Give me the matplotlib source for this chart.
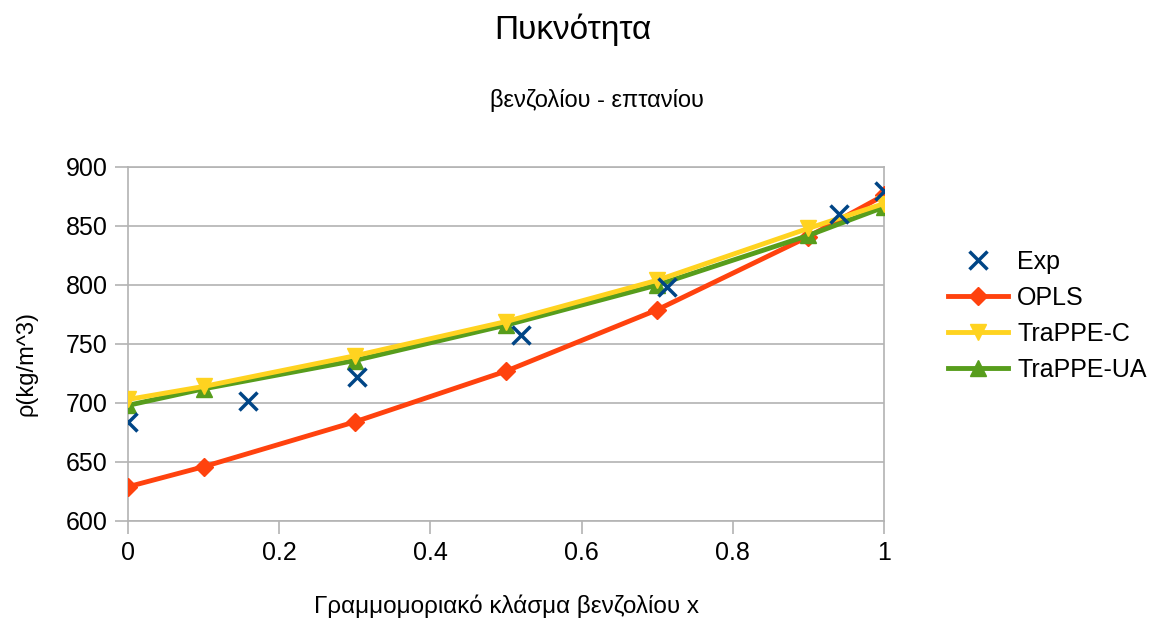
import matplotlib.pyplot as plt
import numpy as np

plt.rcParams['font.family'] = ['Liberation Sans', 'DejaVu Sans']

# experimental data
x_exp = [0.0, 0.159, 0.303, 0.52, 0.713, 0.94, 1.0]
rho_exp = [684, 702, 722, 758, 798, 860, 880]

# simulations
x_sim = [0.0, 0.1, 0.3, 0.5, 0.7, 0.9, 1.0]
rho_opls = [629, 646, 684, 727, 779, 841, 876]
rho_trappe_c = [703, 714, 740, 769, 804, 848, 869]
rho_trappe_ua = [698, 712, 736, 766, 800, 842, 866]

fig = plt.figure(figsize=(11.55, 6.19), dpi=100)
ax = fig.add_axes([128/1155, 1-521/619, (884-128)/1155, (521-167)/619])

ax.plot(x_exp, rho_exp, linestyle='none', marker='x', color='#004586',
        markersize=13, markeredgewidth=2.5, label='Exp', zorder=5)
ax.plot(x_sim, rho_opls, color='#ff420e', linewidth=3.5, marker='D',
        markersize=9, label='OPLS', zorder=3)
ax.plot(x_sim, rho_trappe_c, color='#ffd320', linewidth=3.5, marker='v',
        markersize=11, label='TraPPE-C', zorder=4)
ax.plot(x_sim, rho_trappe_ua, color='#579d1c', linewidth=3.5, marker='^',
        markersize=11, label='TraPPE-UA', zorder=3.5)

ax.set_xlim(0, 1)
ax.set_ylim(600, 900)
ax.set_xticks([0, 0.2, 0.4, 0.6, 0.8, 1])
ax.set_xticklabels(['0', '0.2', '0.4', '0.6', '0.8', '1'])
ax.set_yticks(np.arange(600, 901, 50))
ax.yaxis.grid(True, color='#b3b3b3', linewidth=1.2)
ax.set_axisbelow(True)
for s in ax.spines.values():
    s.set_color('#b3b3b3')
    s.set_linewidth(1.2)
ax.tick_params(colors='#b3b3b3', labelcolor='black', labelsize=18,
               length=9.5, width=1.2, pad=5)

ax.set_xlabel('Γραμμομοριακό κλάσμα βενζολίου x', fontsize=17.5, labelpad=21)
ax.set_ylabel('ρ(kg/m^3)', fontsize=17)
ax.yaxis.set_label_coords(-0.12, 0.446)

fig.text(573/1155, 1-30/619, 'Πυκνότητα', fontsize=24, ha='center', va='center')
fig.text(597/1155, 1-101/619, 'βενζολίου - επτανίου', fontsize=17, ha='center', va='center')

ax.legend(loc='upper left', bbox_to_anchor=(938/1155, 1-240/619),
          bbox_transform=fig.transFigure, frameon=False, fontsize=18,
          borderaxespad=0, handlelength=2.4, labelspacing=0.48,
          handletextpad=0.36)

plt.savefig('out.png', dpi=100)
